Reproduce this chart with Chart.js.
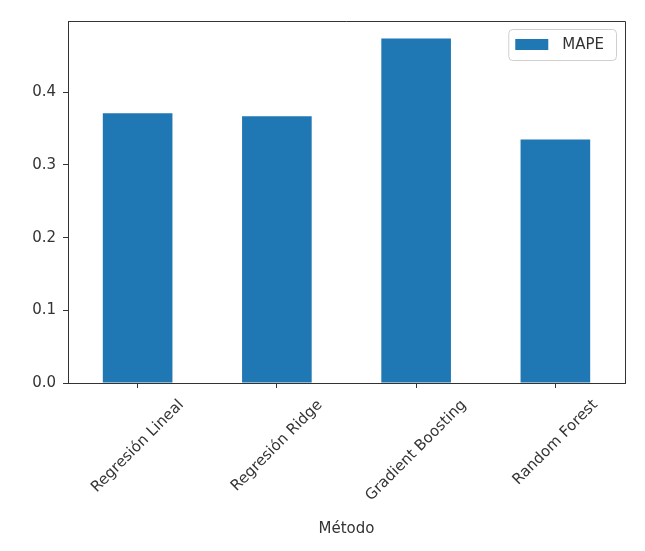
<!DOCTYPE html>
<html>
<head>
<meta charset="utf-8">
<script src="https://cdn.jsdelivr.net/npm/chart.js@4.4.0/dist/chart.umd.min.js"></script>
<style>
  html, body { margin: 0; padding: 0; background: #fff; }
  #wrap { width: 645px; height: 551px; }
</style>
</head>
<body>
<div id="wrap"><canvas id="mapeChart" width="645" height="551"></canvas></div>
<script>
// Data
const categories = ['Regresión Lineal', 'Regresión Ridge', 'Gradient Boosting', 'Random Forest'];
const mapeValues = [0.371, 0.367, 0.474, 0.335];
const yTicks = [0.0, 0.1, 0.2, 0.3, 0.4];
const seriesLabel = 'MAPE';
const xTitle = 'Método';

const FONT = '"DejaVu Sans", sans-serif';
const TEXT_COLOR = '#333';
const AXIS_COLOR = '#333';
const BAR_COLOR = '#1f77b4';

// matplotlib-like frame, rotated tick labels and legend inside the axes
const mplExtras = {
    id: 'mplExtras',
    afterDraw(chart) {
        const ctx = chart.ctx;
        const area = chart.chartArea;
        const xScale = chart.scales.x;

        ctx.save();
        // top and right spines
        ctx.strokeStyle = AXIS_COLOR;
        ctx.lineWidth = 1;
        ctx.beginPath();
        ctx.moveTo(area.left, area.top + 0.5);
        ctx.lineTo(area.right + 0.5, area.top + 0.5);
        ctx.lineTo(area.right + 0.5, area.bottom);
        ctx.stroke();

        // x tick labels, rotated 45 deg, centred on the tick
        ctx.font = '15px ' + FONT;
        ctx.fillStyle = TEXT_COLOR;
        ctx.textAlign = 'center';
        ctx.textBaseline = 'middle';
        categories.forEach((label, i) => {
            const x = xScale.getPixelForValue(i);
            const w = ctx.measureText(label).width;
            const h = 16;
            const box = (w + h) * Math.SQRT1_2;
            const cy = area.bottom + 14 + box / 2;
            ctx.save();
            ctx.translate(x, cy);
            ctx.rotate(-Math.PI / 4);
            ctx.fillText(label, 0, 0);
            ctx.restore();
        });

        // legend
        const label = chart.data.datasets[0].label;
        const textW = ctx.measureText(label).width;
        const boxW = 7 + 33 + 14 + textW + 12;
        const boxH = 31;
        const bx = area.right - 9 - boxW;
        const by = area.top + 8;
        ctx.fillStyle = 'rgba(255,255,255,0.8)';
        ctx.strokeStyle = '#cfcfcf';
        ctx.beginPath();
        ctx.roundRect(bx + 0.5, by + 0.5, boxW, boxH, 4);
        ctx.fill();
        ctx.stroke();
        ctx.fillStyle = chart.data.datasets[0].backgroundColor;
        ctx.fillRect(bx + 7, by + 10, 33, 11);
        ctx.fillStyle = TEXT_COLOR;
        ctx.textAlign = 'left';
        ctx.fillText(label, bx + 7 + 33 + 14, by + 16);
        ctx.restore();
    }
};

const ctx = document.getElementById('mapeChart').getContext('2d');
const mapeChart = new Chart(ctx, {
    type: 'bar',
    data: {
        labels: categories,
        datasets: [{
            label: seriesLabel,
            data: mapeValues,
            backgroundColor: BAR_COLOR,
            borderWidth: 0,
            barPercentage: 0.5,
            categoryPercentage: 1.0
        }]
    },
    options: {
        responsive: false,
        animation: false,
        layout: {
            padding: { top: 21, right: 20, bottom: 9, left: 0 }
        },
        plugins: {
            legend: { display: false },
            tooltip: { enabled: false }
        },
        scales: {
            x: {
                afterFit: (scale) => { scale.height = 159; },
                ticks: { display: false },
                grid: {
                    offset: false,
                    drawOnChartArea: false,
                    drawTicks: true,
                    tickLength: 5,
                    color: AXIS_COLOR
                },
                border: { color: AXIS_COLOR, width: 1 },
                title: {
                    display: true,
                    text: xTitle,
                    color: TEXT_COLOR,
                    font: { family: FONT, size: 15 },
                    padding: { top: 4, bottom: 4 }
                }
            },
            y: {
                min: 0,
                max: 0.498,
                afterFit: (scale) => { scale.width = 68; },
                afterBuildTicks: (scale) => {
                    scale.ticks = yTicks.map(v => ({ value: v }));
                },
                ticks: {
                    callback: (v) => Number(v).toFixed(1),
                    color: TEXT_COLOR,
                    font: { family: FONT, size: 15 },
                    padding: 7
                },
                grid: {
                    drawOnChartArea: false,
                    drawTicks: true,
                    tickLength: 5,
                    color: AXIS_COLOR
                },
                border: { color: AXIS_COLOR, width: 1 }
            }
        }
    },
    plugins: [mplExtras]
});
</script>
</body>
</html>
